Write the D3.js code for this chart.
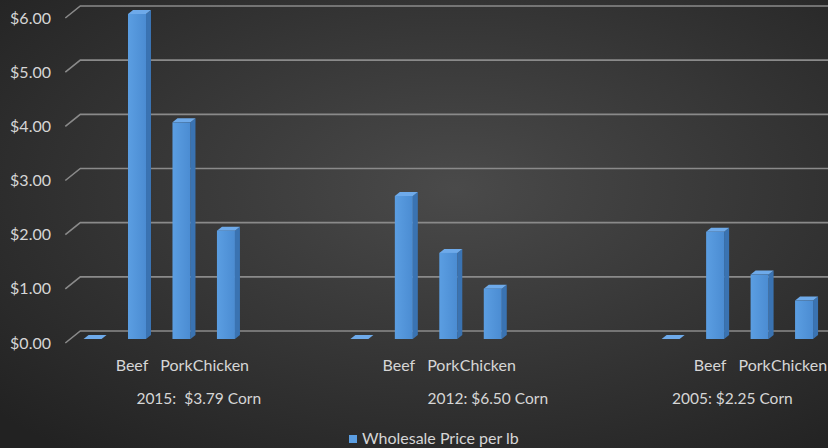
<!DOCTYPE html>
<html><head><meta charset="utf-8">
<script src="https://cdn.jsdelivr.net/npm/d3@7"></script>
<style>html,body{margin:0;padding:0;background:#333;}svg{display:block;}</style>
</head><body>
<svg id="chart" width="828" height="448"></svg>
<script>
// ---- data ----
const groupLabels = ["2015:  $3.79 Corn", "2012: $6.50 Corn", "2005: $2.25 Corn"];
const group2015Cats = ["", "Beef", "Pork", "Chicken", "", ""];
const group2015Vals = [0, 6.00, 4.00, 2.00, null, null];
const group2012Cats = ["", "Beef", "Pork", "Chicken", "", "", ""];
const group2012Vals = [0, 2.64, 1.59, 0.93, null, null, null];
const group2005Cats = ["", "Beef", "Pork", "Chicken"];
const group2005Vals = [0, 1.98, 1.19, 0.71];
const yTicks = [0, 1, 2, 3, 4, 5, 6];
const seriesName = "Wholesale Price per lb";

const groups = [
  {label: groupLabels[0], cats: group2015Cats, vals: group2015Vals},
  {label: groupLabels[1], cats: group2012Cats, vals: group2012Vals},
  {label: groupLabels[2], cats: group2005Cats, vals: group2005Vals}
];
const slots = [];
groups.forEach((g, gi) => g.cats.forEach((c, ci) => slots.push({id: gi + "-" + ci, group: gi, cat: c, val: g.vals[ci]})));

// ---- layout ----
const W = 828, H = 448;
const left = 65.3, right = 821.3; // front plane
const yZero = 343, yTop = 18;     // front plane
const depthX = 15, depthY = -12;  // back wall offset
const svg = d3.select("#chart");

const defs = svg.append("defs");
const bg = defs.append("radialGradient").attr("id", "bg")
  .attr("cx", "55%").attr("cy", "42%").attr("r", "75%");
bg.append("stop").attr("offset", "0%").attr("stop-color", "#4a4a4a");
bg.append("stop").attr("offset", "100%").attr("stop-color", "#222222");
const fg = defs.append("linearGradient").attr("id", "front").attr("x1", 0).attr("x2", 1).attr("y1", 0).attr("y2", 0);
fg.append("stop").attr("offset", "0%").attr("stop-color", "#5b9ee2");
fg.append("stop").attr("offset", "100%").attr("stop-color", "#4b8cd2");

svg.append("rect").attr("width", W).attr("height", H).attr("fill", "url(#bg)");

const x = d3.scaleBand().domain(slots.map(d => d.id)).range([left, right]).paddingInner(0).paddingOuter(0);
const y = d3.scaleLinear().domain([0, 6]).range([yZero, yTop]);

const font = "Lato, 'Open Sans', sans-serif";
const textCol = "#d6d6d6";

// gridlines (back wall + side diagonal)
const grid = svg.append("g");
yTicks.forEach(t => {
  const yf = y(t);
  grid.append("path")
    .attr("d", `M${left},${yf}L${left + depthX},${yf + depthY}L${W + 2},${yf + depthY}`)
    .attr("fill", "none").attr("stroke", "#8a8a8a").attr("stroke-width", 1.6);
});

// y axis labels
const fmt = d3.format("$.2f");
svg.append("g").selectAll("text").data(yTicks).join("text")
  .attr("x", 51).attr("y", d => y(d)).attr("dy", "0.35em")
  .attr("text-anchor", "end").attr("fill", textCol)
  .style("font-family", font).style("font-size", "16px")
  .text(d => fmt(d));

// bars
const bw = 18, bx = 5, by = -4;   // face width, bar depth
const bars = svg.append("g");
slots.filter(d => d.val !== null).forEach(d => {
  const cx = x(d.id) + x.bandwidth() / 2 + 5;
  const x0 = cx - bw / 2, x1 = cx + bw / 2;
  const yb = y(0) - 4, yt = y(d.val) - 4;
  bars.append("path").attr("d", `M${x1},${yb}L${x1 + bx},${yb + by}L${x1 + bx},${yt + by}L${x1},${yt}Z`)
    .attr("fill", "#3a73b2");
  bars.append("path").attr("d", `M${x0},${yt}L${x0 + bx},${yt + by}L${x1 + bx},${yt + by}L${x1},${yt}Z`)
    .attr("fill", "#6eaaea");
  if (yb - yt > 0.5) {
    bars.append("rect").attr("x", x0).attr("y", yt).attr("width", bw).attr("height", yb - yt)
      .attr("fill", "url(#front)");
  }
});

// category labels
svg.append("g").selectAll("text").data(slots.filter(d => d.cat)).join("text")
  .attr("x", d => x(d.id) + x.bandwidth() / 2)
  .attr("y", 371).attr("text-anchor", "middle").attr("fill", textCol)
  .style("font-family", font).style("font-size", "16px")
  .text(d => d.cat);

// group labels
svg.append("g").selectAll("text").data(groups).join("text")
  .attr("x", (g, gi) => {
    const ids = slots.filter(s => s.group === gi).map(s => s.id);
    return (x(ids[0]) + x(ids[ids.length - 1]) + x.bandwidth()) / 2;
  })
  .attr("y", 404).attr("text-anchor", "middle").attr("fill", textCol)
  .style("font-family", font).style("font-size", "15.5px").style("white-space", "pre")
  .text(g => g.label);

// legend
const lg = svg.append("g");
lg.append("rect").attr("x", 349).attr("y", 435).attr("width", 8).attr("height", 8).attr("fill", "#5b9ee2");
lg.append("text").attr("x", 362).attr("y", 444).attr("fill", textCol)
  .style("font-family", font).style("font-size", "16px").text(seriesName);
</script>
</body></html>
